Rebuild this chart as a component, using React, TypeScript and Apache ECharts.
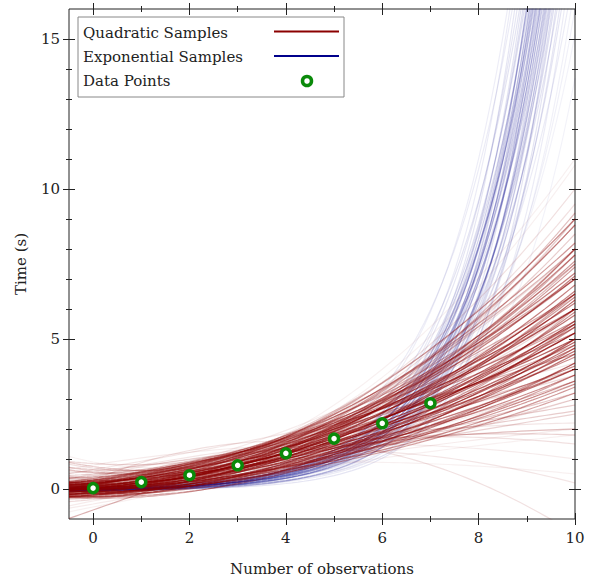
import React, { useEffect, useRef } from "react";
import * as echarts from "echarts";

// observed data points
const obsX = [0, 1, 2, 3, 4, 5, 6, 7];
const obsTime = [0.03, 0.23, 0.46, 0.79, 1.19, 1.68, 2.19, 2.86];

// quadratic samples: value of each sample curve at x = 0, 5 and 10, and its opacity
const quadAt0 = [
  0.03, 0.1, -0.1, 0.2, -0.2, 0.05, 0.15, -0.05, 0.0, 0.25,
  -0.15, 0.08, 0.12, -0.25, 0.02, 0.18, -0.08, 0.06, 0.3, -0.12,
  0.0, 0.14, -0.18, 0.22, -0.02, 0.07, -0.28, 0.16, 0.04, -0.06,
  0.26, 0.1, -0.14, 0.01, 0.19, -0.04, 0.09, -0.22, 0.28, 0.03,
  -0.09, 0.13, 0.0, 0.17, -0.16,
  0.3, 0.2, 0.35, 0.25, 0.4, 0.15,
  -0.25, -0.2, -0.3, -0.1, -0.15, 0.0,
  0.1, -0.1, 0.2, 0.0, 0.3,
  0.3, -0.2, 0.35, -0.25, 0.4, 0.2, -0.15, 0.5, 0.05, 0.15,
  -0.3, 0.45, 0.25, -0.1, 0.6, 0.35, 0.1, -0.35, 0.55, 0.0,
  0.75, 0.85, 0.7, -0.7, 0.3, 0.4, 0.2, 0.5, -0.5, 0.9,
  0.6, -0.4, 0.8, 0.2, -0.6, 0.45, 0.65, -0.2, 0.3, 0.15,
  0.1, 0.0, 0.2, 0.55, 0.65,
];
const quadAt5 = [
  1.68, 1.99, 1.36, 2.27, 1.15, 1.5, 1.85, 2.13, 1.29, 1.57,
  1.78, 2.48, 1.22, 1.43, 1.92, 2.06, 1.01, 1.64, 2.13, 1.57,
  2.34, 1.43, 1.92, 1.78, 1.08, 2.2, 1.29, 1.71, 1.54, 2.06,
  1.36, 1.82, 1.22, 2.55, 1.6, 1.74, 0.94, 1.64, 2.41, 1.96,
  1.46, 2.24, 1.15, 2.02, 0.87,
  2.2, 2.3, 2.0, 2.4, 2.1, 2.15,
  1.0, 1.1, 1.2, 0.95, 1.15, 1.05,
  2.3, 2.1, 2.5, 1.9, 2.6,
  2.05, 1.3, 1.75, 1.55, 2.2, 1.35, 1.85, 1.9, 2.1, 1.25,
  1.4, 2.3, 1.45, 2.0, 1.8, 2.4, 1.2, 1.25, 2.1, 1.1,
  2.0, 1.9, 2.4, 2.0, 1.5, 1.3, 1.6, 1.7, 1.2, 2.6,
  2.5, 1.0, 1.5, 2.8, 0.8, 0.9, 2.2, 0.95, 1.95, 2.6,
  1.4, 1.35, 1.55, 1.7, 2.1,
];
const quadAt10 = [
  5.2, 6.5, 4.6, 7.2, 4.0, 5.6, 5.0, 7.8, 5.0, 4.4,
  6.8, 8.2, 3.8, 5.9, 6.0, 6.2, 4.2, 6.3, 5.6, 5.2,
  8.8, 4.8, 7.4, 5.4, 3.6, 7.0, 5.4, 5.8, 4.9, 7.6,
  4.0, 6.6, 4.5, 9.0, 4.7, 5.5, 3.4, 6.4, 7.0, 7.1,
  4.1, 6.0, 4.7, 8.0, 3.2,
  5.5, 6.5, 4.8, 7.5, 6.0, 5.2,
  5.0, 4.2, 6.0, 3.8, 5.5, 3.5,
  8.8, 9.2, 8.0, 7.8, 9.0,
  6.0, 4.0, 4.0, 6.5, 7.0, 3.6, 8.0, 5.0, 8.5, 3.2,
  5.5, 6.4, 2.8, 9.0, 3.8, 8.0, 2.5, 4.5, 7.5, 3.0,
  8.0, 6.0, 9.5, 4.5, -1.5, 0.2, 1.5, 2.2, 3.5, 10.8,
  10.0, 2.0, 1.0, 11.0, 1.8, 0.5, 4.2, 3.0, 9.0, 7.0,
  2.0, 2.6, 1.8, 6.5, 7.5,
];
const quadAlpha = [
  0.7, 0.6, 0.6, 0.5, 0.5, 0.6, 0.55, 0.45, 0.55, 0.45,
  0.5, 0.4, 0.45, 0.45, 0.6, 0.5, 0.45, 0.6, 0.4, 0.55,
  0.35, 0.55, 0.4, 0.5, 0.45, 0.45, 0.4, 0.55, 0.6, 0.4,
  0.4, 0.5, 0.5, 0.3, 0.5, 0.6, 0.4, 0.4, 0.35, 0.5,
  0.45, 0.4, 0.45, 0.35, 0.35,
  0.35, 0.35, 0.3, 0.3, 0.25, 0.4,
  0.35, 0.4, 0.3, 0.35, 0.35, 0.4,
  0.3, 0.25, 0.28, 0.3, 0.2,
  0.25, 0.25, 0.2, 0.2, 0.2, 0.25, 0.2, 0.18, 0.2, 0.22,
  0.18, 0.15, 0.2, 0.15, 0.15, 0.12, 0.18, 0.15, 0.12, 0.15,
  0.2, 0.15, 0.12, 0.3, 0.12, 0.1, 0.12, 0.1, 0.08, 0.06,
  0.12, 0.08, 0.08, 0.06, 0.06, 0.06, 0.1, 0.1, 0.1, 0.08,
  0.25, 0.2, 0.18, 0.2, 0.18,
];

// exponential samples: growth rate, x where the curve leaves the top (y = 16), offset, opacity
const expRate = [
  0.62, 0.68, 0.58, 0.72, 0.64, 0.6, 0.7, 0.66, 0.62, 0.74,
  0.68, 0.6, 0.65, 0.71, 0.63, 0.67, 0.59, 0.76, 0.64, 0.69,
  0.61, 0.66, 0.72, 0.62, 0.68, 0.57, 0.65, 0.7, 0.63, 0.78,
  0.6, 0.67, 0.64, 0.72, 0.58, 0.66, 0.61, 0.7, 0.56, 0.64,
  0.59, 0.55, 0.62, 0.65, 0.63, 0.67, 0.61, 0.69, 0.64, 0.66,
];
const expExitX = [
  8.6, 8.65, 8.7, 8.75, 8.8, 8.85, 8.88, 8.92, 8.95, 8.98,
  9.0, 9.03, 9.06, 9.08, 9.1, 9.13, 9.15, 9.17, 9.2, 9.22,
  9.25, 9.27, 9.3, 9.32, 9.35, 9.37, 9.4, 9.42, 9.45, 9.48,
  9.5, 9.53, 9.56, 9.6, 9.63, 9.68, 9.72, 9.78, 9.85, 9.92,
  10.0, 10.1, 10.25, 9.0, 9.18, 9.38, 9.12, 9.05, 9.28, 9.47,
];
const expOffset = [
  -0.05, -0.1, 0.0, -0.05, -0.12, 0.0, -0.08, -0.04, -0.1, 0.0,
  -0.06, -0.14, 0.02, -0.08, -0.03, -0.1, 0.0, -0.05, -0.07, 0.01,
  -0.12, -0.04, -0.09, 0.0, -0.06, -0.1, -0.02, -0.08, 0.0, -0.04,
  -0.09, -0.03, -0.11, 0.0, -0.06, -0.02, -0.08, -0.04, 0.0, -0.06,
  -0.03, 0.0, -0.05, -0.05, -0.08, 0.0, -0.02, -0.1, -0.05, -0.07,
];
const expAlpha = [
  0.07, 0.08, 0.08, 0.1, 0.1, 0.11, 0.11, 0.13, 0.13, 0.11,
  0.18, 0.13, 0.18, 0.16, 0.2, 0.18, 0.13, 0.11, 0.2, 0.18,
  0.18, 0.2, 0.13, 0.18, 0.18, 0.11, 0.18, 0.13, 0.16, 0.1,
  0.13, 0.13, 0.13, 0.11, 0.11, 0.1, 0.1, 0.08, 0.08, 0.06,
  0.06, 0.05, 0.05, 0.18, 0.2, 0.16, 0.16, 0.13, 0.18, 0.13,
];

const xMajorTicks = [0, 2, 4, 6, 8, 10];
const xMinorTicks = [1, 3, 5, 7, 9];
const yMajorTicks = [0, 5, 10, 15];
const yMinorTicks = [1, 2, 3, 4, 6, 7, 8, 9, 11, 12, 13, 14];

const X_MIN = -0.5;
const X_MAX = 10;
const Y_MIN = -1;
const Y_MAX = 16;

const FONT = "DejaVu Serif";
const INK = "#222";
const RED = "#8b0000";
const BLUE = "#00008b";
const GREEN = "#0a8a0a";

function sampleXs(): number[] {
  const xs: number[] = [];
  for (let i = 0; i <= 84; i++) xs.push(X_MIN + i * 0.125);
  return xs;
}

function buildOption() {
  const xs = sampleXs();
  const series: any[] = [];

  expRate.forEach((k, i) => {
    const c = expOffset[i];
    const a = (Y_MAX - c) / Math.exp(k * expExitX[i]);
    series.push({
      type: "line",
      xAxisIndex: 0,
      yAxisIndex: 0,
      symbol: "none",
      silent: true,
      clip: true,
      lineStyle: { color: BLUE, width: 1.2, opacity: expAlpha[i] },
      data: xs.map((x) => [x, a * Math.exp(k * x) + c]),
    });
  });

  const order = quadAlpha.map((_, i) => i).sort((p, q) => quadAlpha[p] - quadAlpha[q]);
  order.forEach((i) => {
    const y0 = quadAt0[i];
    const y5 = quadAt5[i];
    const y10 = quadAt10[i];
    const c2 = (y10 - 2 * y5 + y0) / 50;
    const c1 = (y5 - y0 - 25 * c2) / 5;
    series.push({
      type: "line",
      xAxisIndex: 0,
      yAxisIndex: 0,
      symbol: "none",
      silent: true,
      clip: true,
      lineStyle: { color: RED, width: 1.2, opacity: quadAlpha[i] },
      data: xs.map((x) => [x, y0 + c1 * x + c2 * x * x]),
    });
  });

  series.push({
    type: "scatter",
    xAxisIndex: 0,
    yAxisIndex: 0,
    symbol: "circle",
    symbolSize: 9,
    silent: true,
    z: 10,
    itemStyle: { color: "#fff", borderColor: GREEN, borderWidth: 3.5, opacity: 1 },
    data: obsX.map((x, i) => [x, obsTime[i]]),
  });

  const hidden = {
    type: "value",
    splitLine: { show: false },
    axisLine: { show: false, onZero: false },
    axisLabel: { show: false },
    axisTick: { show: false },
  };
  const tickAxis = (position: string, values: number[], len: number, min: number, max: number) => ({
    ...hidden,
    position,
    min,
    max,
    offset: -len / 2,
    axisTick: {
      show: true,
      inside: false,
      length: len,
      customValues: values,
      lineStyle: { color: INK, width: 1 },
    },
  });

  const xAxis = [
    {
      ...hidden,
      position: "bottom",
      min: X_MIN,
      max: X_MAX,
      axisLabel: {
        show: true,
        customValues: xMajorTicks,
        margin: 11,
        fontFamily: FONT,
        fontSize: 15,
        color: INK,
      },
      name: "Number of observations",
      nameLocation: "middle",
      nameGap: 42,
      nameTextStyle: { fontFamily: FONT, fontSize: 15, color: INK },
    },
    tickAxis("bottom", xMajorTicks, 12, X_MIN, X_MAX),
    tickAxis("bottom", xMinorTicks, 6, X_MIN, X_MAX),
    tickAxis("top", xMajorTicks, 12, X_MIN, X_MAX),
    tickAxis("top", xMinorTicks, 6, X_MIN, X_MAX),
  ];
  const yAxis = [
    {
      ...hidden,
      position: "left",
      min: Y_MIN,
      max: Y_MAX,
      axisLabel: {
        show: true,
        customValues: yMajorTicks,
        margin: 9,
        fontFamily: FONT,
        fontSize: 15,
        color: INK,
      },
      name: "Time (s)",
      nameLocation: "middle",
      nameGap: 41,
      nameTextStyle: { fontFamily: FONT, fontSize: 15, color: INK },
    },
    tickAxis("left", yMajorTicks, 12, Y_MIN, Y_MAX),
    tickAxis("left", yMinorTicks, 6, Y_MIN, Y_MAX),
    tickAxis("right", yMajorTicks, 12, Y_MIN, Y_MAX),
    tickAxis("right", yMinorTicks, 6, Y_MIN, Y_MAX),
  ];

  const legendFont = `15px "${FONT}"`;
  const graphic = [
    {
      type: "rect",
      z: 100,
      shape: { x: 78, y: 17, width: 266, height: 80 },
      style: { fill: "#fff", stroke: "#888", lineWidth: 1 },
    },
    {
      type: "text",
      z: 101,
      style: { text: "Quadratic Samples", x: 83, y: 33, font: legendFont, fill: INK, verticalAlign: "middle" },
    },
    {
      type: "text",
      z: 101,
      style: { text: "Exponential Samples", x: 83, y: 57, font: legendFont, fill: INK, verticalAlign: "middle" },
    },
    {
      type: "text",
      z: 101,
      style: { text: "Data Points", x: 83, y: 81, font: legendFont, fill: INK, verticalAlign: "middle" },
    },
    {
      type: "line",
      z: 101,
      shape: { x1: 274, y1: 31.5, x2: 339, y2: 31.5 },
      style: { stroke: RED, lineWidth: 2 },
    },
    {
      type: "line",
      z: 101,
      shape: { x1: 274, y1: 56, x2: 339, y2: 56 },
      style: { stroke: BLUE, lineWidth: 2 },
    },
    {
      type: "circle",
      z: 101,
      shape: { cx: 307, cy: 81, r: 4.5 },
      style: { fill: "#fff", stroke: GREEN, lineWidth: 3.5 },
    },
  ];

  return {
    animation: false,
    backgroundColor: "#fff",
    grid: {
      left: 69,
      right: 14,
      top: 9,
      bottom: 62,
      show: true,
      borderColor: INK,
      borderWidth: 1,
      backgroundColor: "transparent",
      containLabel: false,
      outerBoundsMode: "none",
    },
    xAxis,
    yAxis,
    series,
    graphic,
  };
}

export default function App() {
  const ref = useRef<HTMLDivElement>(null);
  useEffect(() => {
    if (!ref.current) return;
    const chart = echarts.init(ref.current, undefined, { renderer: "svg" });
    chart.setOption(buildOption() as any);
    return () => chart.dispose();
  }, []);
  return (
    <div
      ref={ref}
      style={{ position: "fixed", left: 0, top: 0, width: 589, height: 581, background: "#fff" }}
    />
  );
}
